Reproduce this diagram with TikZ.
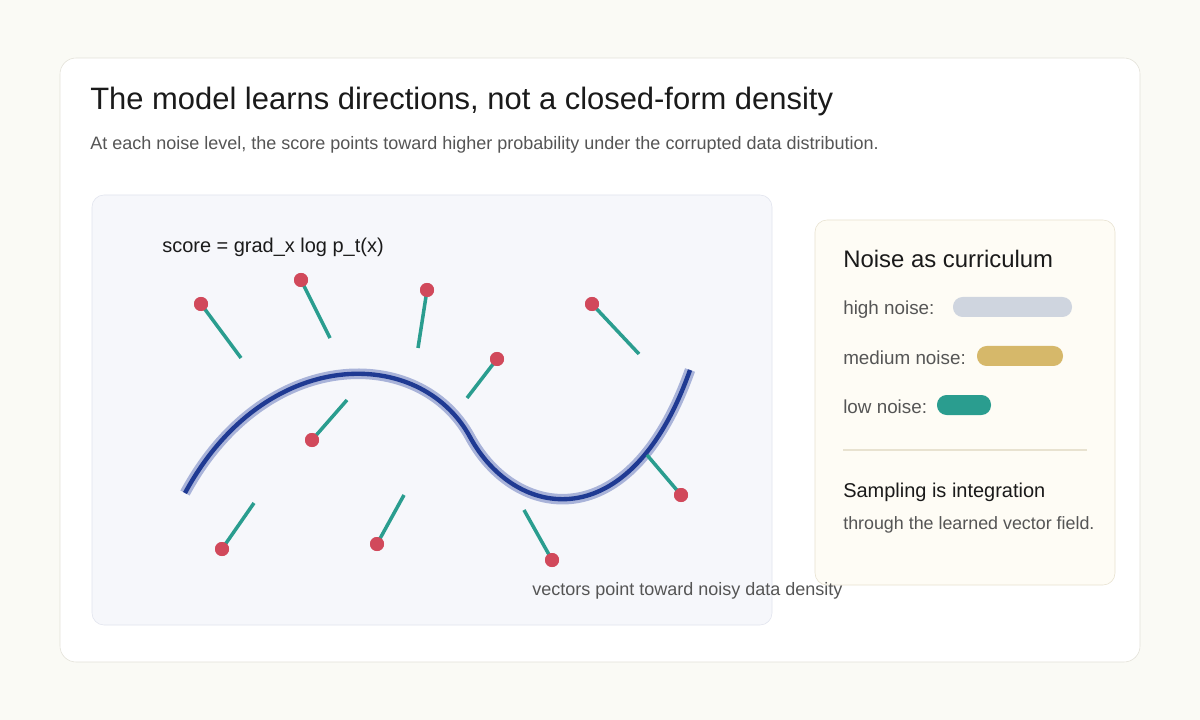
\documentclass[tikz,border=0pt]{standalone}
\usepackage{fontspec}
\setmainfont{Liberation Sans}
\usepackage{xcolor}
\definecolor{pagebg}{HTML}{FAFAF5}
\definecolor{cardline}{HTML}{E3E1D8}
\definecolor{panelbg}{HTML}{F6F7FB}
\definecolor{panelline}{HTML}{E1E4EE}
\definecolor{legendbg}{HTML}{FEFCF5}
\definecolor{legendline}{HTML}{E8E2D0}
\definecolor{curveblue}{HTML}{1F3A93}
\definecolor{haloblue}{HTML}{A9B3D9}
\definecolor{dotred}{HTML}{D1495B}
\definecolor{vecteal}{HTML}{2A9D8F}
\definecolor{textgray}{HTML}{555555}
\definecolor{textdark}{HTML}{1A1A1A}
\definecolor{highbar}{HTML}{CFD5DF}
\definecolor{medbar}{HTML}{D6B86A}

\begin{document}
\begin{tikzpicture}[x=0.025cm,y=-0.025cm,
    txt/.style={anchor=base west,inner sep=0pt},
    sample/.style={circle,fill=dotred,inner sep=0pt,minimum size=0.35cm},
    vec/.style={vecteal,line width=2.5pt},
    bar/.style={rounded corners=0.24cm}]
    % 背景与卡片
    \useasboundingbox[fill=pagebg] (0,0) rectangle (1200,720);
    \draw[cardline,fill=white,rounded corners=0.4cm] (60,58) rectangle (1140,662);
    \node[txt,textdark,font=\fontsize{22pt}{26pt}\selectfont] (title) at (90,110) {The model learns directions, not a closed-form density};
    \node[txt,textgray,font=\fontsize{12.8pt}{15pt}\selectfont] (subtitle) at (90,150) {At each noise level, the score points toward higher probability under the corrupted data distribution.};
    % 绘制左侧面板
    \draw[panelline,fill=panelbg,rounded corners=0.3cm] (92,195) rectangle (772,625);
    \node[txt,textdark,font=\fontsize{14.2pt}{17pt}\selectfont] (score) at (162,253) {score = grad\_x log p\_t(x)};
    % 绘制数据曲线
    \draw[haloblue,line width=7.5pt] (185,493) .. controls (265,345) and (420,345) .. (470,437)
        .. controls (515,520) and (630,540) .. (690,370);
    \draw[curveblue,line width=3.1pt] (185,493) .. controls (265,345) and (420,345) .. (470,437)
        .. controls (515,520) and (630,540) .. (690,370);
    % 绘制向量
    \coordinate (e1) at (241,358);  \node[sample] (d1) at (201,304) {};
    \coordinate (e2) at (330,338);  \node[sample] (d2) at (301,280) {};
    \coordinate (e3) at (418,348);  \node[sample] (d3) at (427,290) {};
    \coordinate (e4) at (467,398);  \node[sample] (d4) at (497,359) {};
    \coordinate (e5) at (639,354);  \node[sample] (d5) at (592,304) {};
    \coordinate (e6) at (347,400);  \node[sample] (d6) at (312,440) {};
    \coordinate (e7) at (647,455);  \node[sample] (d7) at (681,495) {};
    \coordinate (e8) at (254,503);  \node[sample] (d8) at (222,549) {};
    \coordinate (e9) at (404,495);  \node[sample] (d9) at (377,544) {};
    \coordinate (e10) at (524,510); \node[sample] (d10) at (552,560) {};
    \foreach \i in {1,...,10} {
        \draw[vec] (d\i.center) -- (e\i);
        \node[sample] at (d\i) {};
    }
    % 绘制右侧图例
    \draw[legendline,fill=legendbg,rounded corners=0.3cm] (815,220) rectangle (1115,585);
    \node[txt,textdark,font=\fontsize{17pt}{20pt}\selectfont] (legtitle) at (843,268) {Noise as curriculum};
    \node[txt,textgray,font=\fontsize{13.4pt}{16pt}\selectfont] (high) at (843,315) {high noise:};
    \node[txt,textgray,font=\fontsize{13.4pt}{16pt}\selectfont] (medium) at (843,364) {medium noise:};
    \node[txt,textgray,font=\fontsize{13.4pt}{16pt}\selectfont] (low) at (843,413) {low noise:};
    \fill[highbar,bar] (953,297) rectangle (1072,317);
    \fill[medbar,bar] (977,346) rectangle (1063,366);
    \fill[vecteal,bar] (937,395) rectangle (991,415);
    \draw[legendline,line width=0.8pt] (843,450) -- (1087,450);
    \node[txt,textdark,font=\fontsize{14.2pt}{17pt}\selectfont] (sampling) at (843,497) {Sampling is integration};
    \node[txt,textgray,font=\fontsize{12.7pt}{15pt}\selectfont] (through) at (843,529) {through the learned vector field.};
    % 标注
    \node[txt,textgray,font=\fontsize{12.8pt}{15pt}\selectfont] (caption) at (532,595) {vectors point toward noisy data density};
\end{tikzpicture}
\end{document}
